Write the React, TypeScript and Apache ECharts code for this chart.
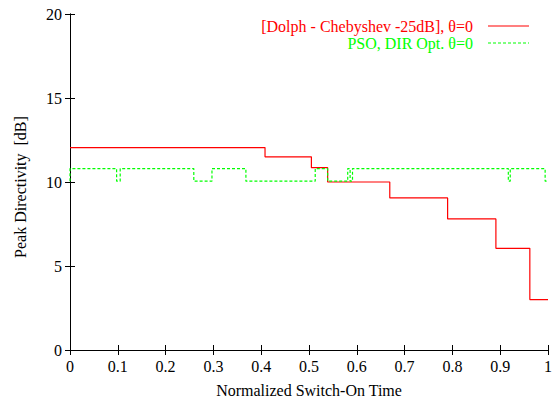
import React, { useEffect, useRef } from "react";
import * as echarts from "echarts";

const xTicks = ["0", "0.1", "0.2", "0.3", "0.4", "0.5", "0.6", "0.7", "0.8", "0.9", "1"];
const dolphX = [0, 0.408, 0.505, 0.539, 0.669, 0.79, 0.891, 0.962, 1];
const dolphY = [12.05, 11.5, 10.85, 10.0, 9.05, 7.8, 6.05, 3.0, 3.0];
const psoX = [0, 0, 0.0975, 0.105, 0.259, 0.297, 0.368, 0.513, 0.539, 0.581, 0.586, 0.591, 0.917, 0.921, 0.994, 1];
const psoY = [10.05, 10.8, 10.05, 10.8, 10.05, 10.8, 10.05, 10.8, 10.05, 10.8, 10.05, 10.8, 10.05, 10.8, 10.05, 10.05];
const legendNames = ["[Dolph - Chebyshev -25dB], θ=0", "PSO, DIR Opt. θ=0"];
const xTitle = "Normalized Switch-On Time";
const yTitle = "Peak Directivity  [dB]";

const FONT = "'Liberation Serif', 'Times New Roman', 'DejaVu Serif', serif";
const FS = 16;

export default function App() {
  const ref = useRef<HTMLDivElement>(null);
  useEffect(() => {
    if (!ref.current) return;
    const chart = echarts.init(ref.current, null, { renderer: "svg" });
    const axisCommon = {
      axisLine: { show: true, lineStyle: { color: "#000", width: 1 } },
      axisTick: { show: true, inside: true, length: 5, lineStyle: { color: "#000" } },
      splitLine: { show: false },
    };
    chart.setOption({
      animation: false,
      backgroundColor: "#fff",
      grid: { left: 70, right: 5, top: 14, bottom: 53, containLabel: false, outerBoundsMode: "none" },
      xAxis: [
        {
          type: "value",
          min: 0,
          max: 1,
          interval: 0.1,
          position: "bottom",
          name: xTitle,
          nameLocation: "middle",
          nameGap: 32,
          nameTextStyle: { fontFamily: FONT, fontSize: FS, color: "#000" },
          axisLabel: {
            fontFamily: FONT,
            fontSize: FS,
            color: "#000",
            margin: 8,
            formatter: (v: number) => xTicks[Math.round(v * 10)] ?? "",
          },
          ...axisCommon,
        },
        {
          type: "value",
          min: 0,
          max: 1,
          interval: 0.1,
          position: "top",
          axisLabel: { show: false },
          ...axisCommon,
        },
      ],
      yAxis: [
        {
          type: "value",
          min: 0,
          max: 20,
          interval: 5,
          position: "left",
          axisLabel: { fontFamily: FONT, fontSize: FS, color: "#000", margin: 8 },
          ...axisCommon,
        },
        {
          type: "value",
          min: 0,
          max: 20,
          interval: 5,
          position: "right",
          axisLabel: { show: false },
          ...axisCommon,
        },
      ],
      series: [
        {
          name: legendNames[0],
          type: "line",
          step: "end",
          symbol: "none",
          data: dolphX.map((x, i) => [x, dolphY[i]]),
          lineStyle: { color: "#ff0000", width: 1.2 },
          z: 2,
        },
        {
          name: legendNames[1],
          type: "line",
          step: "end",
          symbol: "none",
          data: psoX.map((x, i) => [x, psoY[i]]),
          lineStyle: { color: "#00ff00", width: 1.2, type: [3, 2] },
          z: 3,
        },
      ],
      graphic: [
        {
          type: "text",
          x: 20,
          y: 187,
          rotation: Math.PI / 2,
          style: {
            text: yTitle,
            fill: "#000",
            fontFamily: FONT,
            fontSize: FS,
            align: "center",
            verticalAlign: "middle",
          },
        },
        {
          type: "text",
          x: 473,
          y: 26,
          style: {
            text: legendNames[0],
            fill: "#ff0000",
            fontFamily: FONT,
            fontSize: FS,
            align: "right",
            verticalAlign: "middle",
          },
        },
        {
          type: "line",
          shape: { x1: 488, y1: 26, x2: 529, y2: 26 },
          style: { stroke: "#ff0000", lineWidth: 1.2 },
        },
        {
          type: "text",
          x: 473,
          y: 43,
          style: {
            text: legendNames[1],
            fill: "#00ff00",
            fontFamily: FONT,
            fontSize: FS,
            align: "right",
            verticalAlign: "middle",
          },
        },
        {
          type: "line",
          shape: { x1: 488, y1: 43, x2: 529, y2: 43 },
          style: { stroke: "#00ff00", lineWidth: 1.2, lineDash: [3, 2] },
        },
      ],
    });
    return () => chart.dispose();
  }, []);
  return <div ref={ref} style={{ width: 553, height: 403, position: "absolute", left: 0, top: 0 }} />;
}
